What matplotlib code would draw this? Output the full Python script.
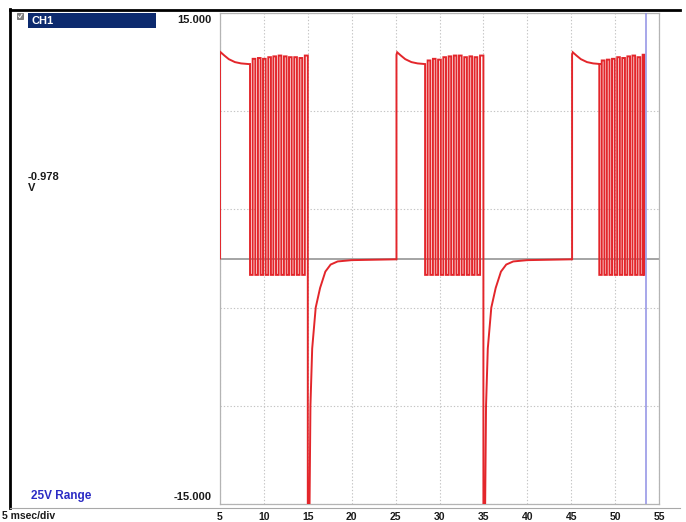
import matplotlib
matplotlib.use("Agg")
import matplotlib.pyplot as plt
from matplotlib.patches import Rectangle
from matplotlib.lines import Line2D

plt.rcParams['font.family'] = ['Liberation Sans', 'DejaVu Sans']

# ---------------- labels / axis data ----------------
x_ticks = [5, 10, 15, 20, 25, 30, 35, 40, 45, 50, 55]
y_grid = [-15, -9, -3, 3, 9, 15]
y_max_label = "15.000"
y_min_label = "-15.000"
cursor_value = "-0.978"
cursor_unit = "V"
channel_label = "CH1"
range_label = "25V Range"
timebase_label = "5 msec/div"
cursor_ms = 53.5

# ---------------- waveform data (ms, V) ----------------
cycle_start = [5.0, 25.1, 45.1]
plateau_dt = [0.0, 0.08, 0.5, 1.0, 1.7, 2.4, 3.25]
plateau_v = [12.45, 12.6, 12.4, 12.18, 12.0, 11.92, 11.88]
burst_low = -1.0

burst1_fall = [8.42, 9.02, 9.62, 10.20, 10.80, 11.38, 11.98, 12.58, 13.16, 13.76, 14.36]
burst1_rise = [8.72, 9.32, 9.90, 10.50, 11.08, 11.68, 12.28, 12.86, 13.46, 14.06, 14.66]
burst1_top = [12.2, 12.25, 12.2, 12.3, 12.35, 12.4, 12.35, 12.3, 12.3, 12.25, 12.4]

burst2_fall = [28.36, 28.95, 29.55, 30.15, 30.74, 31.33, 31.93, 32.52, 33.12, 33.71, 34.30]
burst2_rise = [28.65, 29.25, 29.84, 30.44, 31.04, 31.63, 32.22, 32.82, 33.41, 34.00, 34.62]
burst2_top = [12.1, 12.2, 12.15, 12.3, 12.35, 12.4, 12.4, 12.3, 12.35, 12.3, 12.4]

burst3_fall = [48.20, 48.78, 49.36, 49.95, 50.54, 51.12, 51.70, 52.28, 52.86, 53.32]
burst3_rise = [48.48, 49.06, 49.65, 50.24, 50.82, 51.40, 51.98, 52.56, 53.14]
burst3_top = [12.1, 12.15, 12.2, 12.3, 12.25, 12.35, 12.4, 12.3, 12.45]

spike_ms = [15.0, 35.0]
recovery_dt = [0.0, 0.2, 0.3, 0.5, 0.9, 1.4, 2.0, 2.6, 3.4, 5.0, 10.1]
recovery_v = [-15.0, -15.0, -9.0, -5.5, -3.0, -1.8, -0.8, -0.37, -0.18, -0.1, -0.05]

bursts = [(burst1_fall, burst1_rise, burst1_top),
          (burst2_fall, burst2_rise, burst2_top),
          (burst3_fall, burst3_rise, burst3_top)]

# ---------------- build trace ----------------
t, v = [cycle_start[0]], [0.0]
for k, start in enumerate(cycle_start):
    if k > 0:
        t.append(start); v.append(v[-1])
    for dt, pv in zip(plateau_dt, plateau_v):
        t.append(start + dt); v.append(pv)
    fall, rise, top = bursts[k]
    level = v[-1]
    for i, tf in enumerate(fall):
        t += [tf, tf]; v += [level, burst_low]
        if i < len(rise):
            t += [rise[i], rise[i]]; v += [burst_low, top[i]]
            level = top[i]
    if k < len(spike_ms):
        ts = spike_ms[k]
        t.append(ts); v.append(v[-1])
        for dt, rv in zip(recovery_dt, recovery_v):
            t.append(ts + dt); v.append(rv)

# ---------------- figure ----------------
W, H = 686, 522
fig = plt.figure(figsize=(W / 100, H / 100), dpi=100)
fig.patch.set_facecolor('white')

def fx(px):
    return px / W

def fy(py):
    return 1 - py / H

L, R, T, B = 220, 659, 13, 504
ax = fig.add_axes([fx(L), fy(B), fx(R) - fx(L), fy(T) - fy(B)])
ax.set_xlim(5, 55)
ax.set_ylim(-15, 15)
for s in ax.spines.values():
    s.set_color('#b4b4b4')
    s.set_linewidth(0.9)
ax.set_xticks(x_ticks)
ax.set_xticklabels([str(x) for x in x_ticks], fontsize=7.5, fontweight='bold', color='#1a1a1a')
ax.set_yticks(y_grid)
ax.set_yticklabels([])
ax.tick_params(axis='both', length=0)
ax.tick_params(axis='x', pad=5.5)
ax.grid(True, color='#c4c4c4', linestyle=(0, (1.2, 1.8)), linewidth=0.8)
ax.axhline(0, color='#8c8c8c', linewidth=1.1, zorder=2)
ax.axvline(cursor_ms, color='#9090e4', linewidth=1.1, zorder=4)
ax.plot(t, v, color='#e3262b', linewidth=1.4, zorder=3, solid_joinstyle='miter')

# ---------------- decorations ----------------
ov = fig.add_axes([0, 0, 1, 1], facecolor='none')
ov.set_xlim(0, W); ov.set_ylim(H, 0); ov.axis('off')
ov.add_line(Line2D([10, 680], [9.5, 9.5], color='black', linewidth=2.0))
ov.add_line(Line2D([10, 10], [9, 508], color='black', linewidth=2.0))
ov.add_line(Line2D([10, 680], [507.5, 507.5], color='#a8a8a8', linewidth=0.8))
ov.add_patch(Rectangle((17, 13), 6, 6, facecolor='#808080', edgecolor='#606060', linewidth=0.5))
ov.add_line(Line2D([18.3, 19.8, 22], [16, 17.8, 14.2], color='white', linewidth=0.7))
ov.add_patch(Rectangle((28, 13), 128, 15, facecolor='#0c2a6e', edgecolor='none'))
ov.text(31, 20.5, channel_label, color='white', fontsize=8, fontweight='bold', va='center', ha='left')
ov.text(212, 20, y_max_label, color='#1a1a1a', fontsize=8, fontweight='bold', va='center', ha='right')
ov.text(212, 497, y_min_label, color='#1a1a1a', fontsize=8, fontweight='bold', va='center', ha='right')
ov.text(28, 177, cursor_value, color='#1a1a1a', fontsize=8, fontweight='bold', va='center', ha='left')
ov.text(28, 188, cursor_unit, color='#1a1a1a', fontsize=8, fontweight='bold', va='center', ha='left')
ov.text(31, 496, range_label, color='#2b2bc4', fontsize=8.5, fontweight='bold', va='center', ha='left')
ov.text(2, 516, timebase_label, color='#1a1a1a', fontsize=7.5, fontweight='bold', va='center', ha='left')

fig.savefig('out.png', dpi=100)
